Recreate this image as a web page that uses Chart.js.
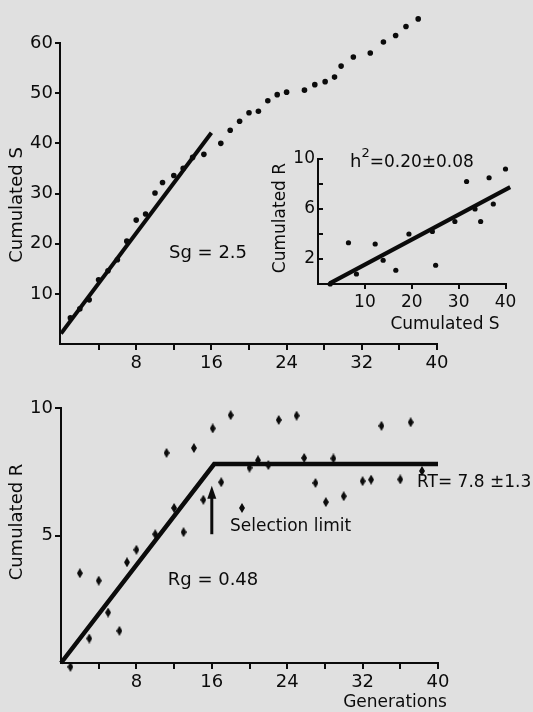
<!DOCTYPE html>
<html>
<head>
<meta charset="utf-8">
<script src="https://cdn.jsdelivr.net/npm/chart.js@4/dist/chart.umd.min.js"></script>
<style>
  html, body { margin: 0; padding: 0; background: #e0e0e0; }
  #wrap { position: relative; width: 533px; height: 712px; overflow: hidden; }
  #wrap canvas { position: absolute; left: 0; top: 0; }
</style>
</head>
<body>
<div id="wrap">
  <canvas id="cumS" width="533" height="712" style="width:533px;height:712px"></canvas>
  <canvas id="inset" width="533" height="712" style="width:533px;height:712px"></canvas>
  <canvas id="cumR" width="533" height="712" style="width:533px;height:712px"></canvas>
</div>
<script>
// ---- data: cumulated selection differential (S) per generation
const genS = [1, 2, 3, 4, 5, 6, 7, 8, 9, 10, 10.8, 12, 13, 14, 15.2, 17, 18, 19, 20, 21, 22, 23, 24, 25.9, 27, 28.1, 29.1, 29.8, 31.1, 32.9, 34.3, 35.6, 36.7, 38];
const cumS = [5.2, 7.0, 8.8, 12.8, 14.6, 16.8, 20.5, 24.7, 25.9, 30.1, 32.2, 33.6, 35.0, 37.2, 37.8, 40.0, 42.6, 44.4, 46.1, 46.4, 48.5, 49.7, 50.2, 50.6, 51.7, 52.3, 53.2, 55.4, 57.2, 58.0, 60.2, 61.5, 63.3, 64.8];

// ---- data: cumulated response (R) against cumulated S (realised heritability)
const insetS = [2.6, 6.5, 8.2, 12.2, 13.9, 16.6, 19.4, 24.4, 25.1, 29.2, 31.7, 33.5, 34.7, 36.5, 37.4, 40.0];
const insetR = [0, 3.3, 0.8, 3.2, 1.9, 1.1, 4.0, 4.2, 1.5, 5.0, 8.2, 6.0, 5.0, 8.5, 6.4, 9.2];

// ---- data: cumulated response (R) per generation
const genR = [1, 2, 3, 4, 5, 6.2, 7, 8, 10, 11.2, 12, 13, 14.1, 15.1, 16.1, 17, 18, 19.2, 20, 20.9, 22, 23.1, 25, 25.8, 27, 28.1, 28.9, 30, 32, 32.9, 34, 36, 37.1, 38.3];
const cumR = [-0.15, 3.52, 0.96, 3.23, 1.98, 1.26, 3.95, 4.44, 5.05, 8.24, 6.08, 5.13, 8.43, 6.4, 9.2, 7.09, 9.72, 6.08, 7.66, 7.95, 7.76, 9.53, 9.7, 8.04, 7.06, 6.31, 8.02, 6.54, 7.13, 7.19, 9.3, 7.2, 9.44, 7.53];

// ---- fitted parameters
const SG = 2.5, SG_START = 2.1, SG_END_GEN = 16;   // selection per generation
const H2 = 0.20, H2_ERR = 0.08, H2_START = -0.45;  // realised heritability
const RG = 0.48, RT = 7.8, RT_ERR = 1.3;           // response per generation, plateau
const SEL_LIMIT_GEN = 16;

// ---- tick labels
const genTickLabels = [8, 16, 24, 32, 40];
const sTickLabels = [10, 20, 30, 40, 50, 60];
const insetXLabels = [10, 20, 30, 40];
const insetYLabels = [2, 6, 10];
const rTickLabels = [5, 10];

const W = 533, H = 712;
const INK = '#0b0b0b';
const FONT = '"DejaVu Sans", "Liberation Sans", sans-serif';

const pts = (xs, ys) => xs.map((x, i) => ({ x, y: ys[i] }));

// elongated diamond marker for the response points
function diamond() {
  const c = document.createElement('canvas');
  c.width = 6; c.height = 10;
  const g = c.getContext('2d');
  g.fillStyle = INK;
  g.beginPath();
  g.moveTo(3, 0); g.lineTo(6, 5); g.lineTo(3, 10); g.lineTo(0, 5);
  g.closePath(); g.fill();
  return c;
}

function layoutFor(area, wy, hx) {
  return { padding: { left: area.left - wy, top: area.top, right: W - area.right, bottom: H - area.bottom - hx } };
}

function axis(opts) {
  const shown = opts.labels;
  return {
    type: 'linear',
    min: opts.min, max: opts.max,
    afterFit: opts.fit,
    border: { color: INK, width: 2, display: opts.border !== false },
    grid: {
      drawOnChartArea: false,
      drawTicks: opts.drawTicks !== false,
      tickLength: opts.tickLength || 6,
      lineWidth: 2,
      color: c => (c.tick && c.tick.value === 0) ? 'rgba(0,0,0,0)' : INK
    },
    ticks: {
      stepSize: opts.step,
      includeBounds: false,
      autoSkip: false,
      maxRotation: 0,
      padding: opts.pad,
      color: INK,
      font: { family: FONT, size: opts.size || 18 },
      callback: v => shown.includes(v) ? String(v) : ''
    }
  };
}

function textLayer(id, items, extra) {
  return {
    id,
    afterDraw(chart) {
      const ctx = chart.ctx;
      ctx.save();
      ctx.fillStyle = INK;
      ctx.strokeStyle = INK;
      ctx.textBaseline = 'middle';
      for (const t of items) {
        ctx.save();
        ctx.font = (t.size || 17) + 'px ' + FONT;
        ctx.textAlign = t.align || 'center';
        ctx.translate(t.x, t.y);
        if (t.rot) ctx.rotate(t.rot);
        ctx.fillText(t.text, 0, 0);
        ctx.restore();
      }
      if (extra) extra(chart, ctx);
      ctx.restore();
    }
  };
}

const base = {
  responsive: false,
  animation: false,
  devicePixelRatio: 1,
  plugins: { legend: { display: false }, tooltip: { enabled: false } }
};

// ---------- cumulated S against generations ----------
// value axis runs to 66 so the last points fit; the drawn axis line stops at 60
const S_AXIS_TOP = 60, S_ROOM = 66;
const areaS = { left: 61, top: 43 - (S_ROOM - S_AXIS_TOP) * (301 / 60), right: 437, bottom: 344 };
new Chart(document.getElementById('cumS'), {
  type: 'scatter',
  data: {
    datasets: [
      { data: pts(genS, cumS), pointRadius: 2.8, pointBackgroundColor: INK, pointBorderWidth: 0, clip: false },
      { data: [{ x: 0, y: SG_START }, { x: SG_END_GEN, y: SG_START + SG * SG_END_GEN }],
        showLine: true, borderColor: INK, borderWidth: 4, pointRadius: 0 }
    ]
  },
  options: Object.assign({}, base, {
    layout: layoutFor(areaS, 50, 30),
    scales: {
      x: axis({ min: 0, max: 40, step: 4, labels: genTickLabels, pad: 3, fit: s => { s.height = 30; } }),
      y: axis({ min: 0, max: S_ROOM, step: 10, labels: sTickLabels, pad: 2, border: false, fit: s => { s.width = 50; } })
    }
  }),
  plugins: [textLayer('sText', [
    { text: 'Cumulated S', x: 17, y: 205, rot: -Math.PI / 2, size: 18 },
    { text: 'Sg = ' + SG, x: 208, y: 253, size: 18 }
  ], (chart, ctx) => {
    const y = chart.scales.y;
    ctx.lineWidth = 2;
    ctx.beginPath();
    ctx.moveTo(y.right - 1, y.getPixelForValue(0) + 1);
    ctx.lineTo(y.right - 1, y.getPixelForValue(S_AXIS_TOP) - 1);
    ctx.stroke();
  })]
});

// ---------- inset: cumulated R against cumulated S ----------
const areaI = { left: 318, top: 159, right: 505.5, bottom: 284 };
new Chart(document.getElementById('inset'), {
  type: 'scatter',
  data: {
    datasets: [
      { data: pts(insetS, insetR), pointRadius: 2.6, pointBackgroundColor: INK, pointBorderWidth: 0, clip: false },
      { data: [{ x: 2.5, y: H2_START + H2 * 2.5 }, { x: 41, y: H2_START + H2 * 41 }],
        showLine: true, borderColor: INK, borderWidth: 4, pointRadius: 0, clip: false }
    ]
  },
  options: Object.assign({}, base, {
    layout: layoutFor(areaI, 30, 25),
    scales: {
      x: axis({ min: 0, max: 40, step: 10, labels: insetXLabels, pad: 3, tickLength: 5, size: 17, fit: s => { s.height = 25; } }),
      y: axis({ min: 0, max: 10, step: 2, labels: insetYLabels, pad: 3, drawTicks: false, size: 17, fit: s => { s.width = 30; } })
    }
  }),
  plugins: [textLayer('iText', [
    { text: 'Cumulated R', x: 281, y: 218, rot: -Math.PI / 2, size: 17 },
    { text: 'Cumulated S', x: 445, y: 325, size: 17 }
  ], (chart, ctx) => {
    // inward tick marks on the vertical axis
    const y = chart.scales.y;
    ctx.lineWidth = 2;
    for (let v = 2; v <= 10; v += 2) {
      const py = y.getPixelForValue(v);
      ctx.beginPath();
      ctx.moveTo(y.right, py);
      ctx.lineTo(y.right + 5, py);
      ctx.stroke();
    }
    // h² = value ± error
    ctx.textAlign = 'left';
    ctx.textBaseline = 'alphabetic';
    let x = 350;
    const base = 167;
    ctx.font = '18px ' + FONT;
    ctx.fillText('h', x, base);
    x += ctx.measureText('h').width;
    ctx.font = '13px ' + FONT;
    ctx.fillText('2', x, base - 10);
    x += ctx.measureText('2').width;
    ctx.font = '17px ' + FONT;
    ctx.fillText('=' + H2.toFixed(2) + '±' + H2_ERR.toFixed(2), x, base);
  })]
});

// ---------- cumulated R against generations ----------
const areaR = { left: 61, top: 408, right: 438, bottom: 663 };
const breakGen = RT / RG;
new Chart(document.getElementById('cumR'), {
  type: 'scatter',
  data: {
    datasets: [
      { data: pts(genR, cumR), pointStyle: diamond(), pointRadius: 5, clip: false },
      { data: [{ x: 0, y: 0 }, { x: breakGen, y: RT }, { x: 40, y: RT }],
        showLine: true, borderColor: INK, borderWidth: 4.5, pointRadius: 0, borderJoinStyle: 'miter', clip: false }
    ]
  },
  options: Object.assign({}, base, {
    layout: layoutFor(areaR, 50, 30),
    scales: {
      x: axis({ min: 0, max: 40, step: 4, labels: genTickLabels, pad: 3, fit: s => { s.height = 30; } }),
      y: axis({ min: 0, max: 10, step: 5, labels: rTickLabels, pad: 2, fit: s => { s.width = 50; } })
    }
  }),
  plugins: [textLayer('rText', [
    { text: 'Cumulated R', x: 17, y: 522, rot: -Math.PI / 2, size: 18 },
    { text: 'Rg = ' + RG, x: 213, y: 580, size: 18 },
    { text: 'Selection limit', x: 230, y: 527, align: 'left', size: 17 },
    { text: 'RT= ' + RT + ' ±' + RT_ERR, x: 417, y: 483, align: 'left', size: 17 },
    { text: 'Generations', x: 395, y: 703, size: 17 }
  ], (chart, ctx) => {
    // arrow marking the selection limit
    const x = chart.scales.x.getPixelForValue(SEL_LIMIT_GEN);
    const yS = chart.scales.y;
    const tip = yS.getPixelForValue(6.95);
    const foot = yS.getPixelForValue(5.05);
    ctx.lineWidth = 3;
    ctx.beginPath();
    ctx.moveTo(x, foot);
    ctx.lineTo(x, tip + 10);
    ctx.stroke();
    ctx.beginPath();
    ctx.moveTo(x, tip);
    ctx.lineTo(x - 4.5, tip + 13);
    ctx.lineTo(x + 4.5, tip + 13);
    ctx.closePath();
    ctx.fill();
  })]
});
</script>
</body>
</html>
